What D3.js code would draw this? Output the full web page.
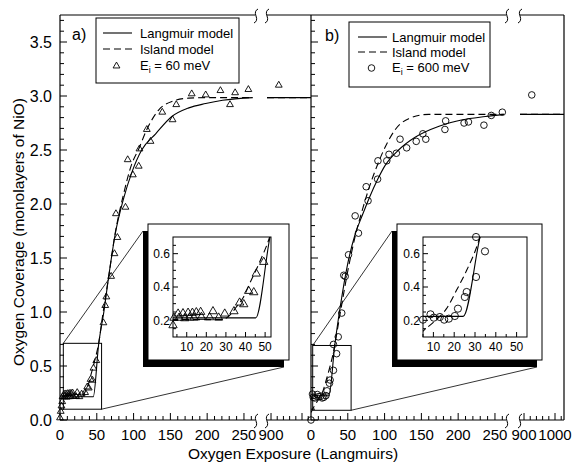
<!DOCTYPE html>
<html><head><meta charset="utf-8">
<script src="https://cdn.jsdelivr.net/npm/d3@7"></script>
<style>body{margin:0;background:#fff}svg{display:block}text{font-family:"Liberation Sans",Arial,sans-serif;fill:#000}</style>
</head><body><svg id="c" width="582" height="466"></svg>
<script>
// ---------- tick labels ----------
const yMajorTicks = [0, 0.5, 1, 1.5, 2, 2.5, 3, 3.5];
const xLabels1 = [0, 50, 100, 150, 200, 250];
const xLabels2A = [900];
const xLabels2B = [900, 1000];
const insetXLabels = [10, 20, 30, 40, 50];
const insetYLabels = [0.2, 0.4, 0.6];

// ---------- panel a (Ei = 60 meV), [exposure, coverage] ----------
const dataA = [[0,0.02],[1,0.08],[2,0.13],[3,0.17],
  [3.5,0.215],[6.1,0.215],[9,0.212],[11.5,0.216],[13.7,0.216],[17.5,0.22],[21.7,0.218],[26.3,0.216],
  [5.6,0.24],[8.1,0.242],[10.7,0.245],[12.9,0.245],[14.9,0.248],[17.1,0.25],[23.4,0.254],[29.4,0.24],
  [34.1,0.254],[37,0.306],[39.1,0.296],[41.6,0.376],[44.2,0.368],[45.5,0.48],[49.3,0.55],
  [59,0.90],[61.5,1.06],[63,1.14],[69.5,1.33],[74,1.54],[78,1.69],[76,1.91],[89,1.97],[92,2.41],
  [99,2.27],[107,2.35],[108,2.51],[118,2.69],[123,2.58],[139,2.85],[153,2.78],[158,2.92],[179,3.02],
  [198,3.01],[218,3.05],[231,2.92],[238,3.03],[256,3.06]];
const dataAFar = [[925,3.10]];
const langA = [[2,0.215],[45.2,0.215],[52.5,0.70],[60,1.02],[66,1.32],[75,1.72],[86,2.04],[98,2.30],
  [111,2.50],[130,2.65],[152,2.81],[175,2.89],[198,2.93],[221,2.96],[262,2.985]];
const islandA = [[2,0.204],[27.6,0.204],[31,0.22],[35.3,0.28],[39,0.34],[42.1,0.42],[47.2,0.55],[52.3,0.70],
  [58,0.97],[66,1.32],[75,1.73],[86,2.08],[97,2.36],[107,2.51],[118,2.69],[134,2.87],[152,2.95],
  [175,2.98],[200,2.985],[262,2.985]];
const langAFar = [[887,2.985],[1029,2.985]];
const islandAFar = [[887,2.985],[1029,2.985]];
const zoomBoxA = [4.5, 56.5, 0.1, 0.71];
const insetDomainA = [3, 53];

// ---------- panel b (Ei = 600 meV) ----------
const dataB = [[0,0.0],[2,0.24],[3,0.21],[5,0.204],[8.6,0.236],[10.2,0.216],[13.1,0.22],[15.2,0.204],
  [17.4,0.21],[20.3,0.226],[21.8,0.27],[25.1,0.34],[26,0.37],[30.5,0.46],[30.5,0.70],[34.8,0.614],
  [37,0.77],[41.8,0.99],[44.5,1.34],[46.5,1.33],[51,1.53],[60,1.89],[64.5,1.73],[75,2.16],[77.5,2.03],
  [90.5,2.23],[91,2.40],[103,2.40],[106,2.46],[116,2.47],[121,2.60],[130,2.52],[143,2.58],[152,2.65],
  [156,2.60],[182,2.69],[183,2.77],[208,2.75],[214,2.76],[235,2.73],[245,2.82],[260,2.85]];
const dataBFar = [[925,3.01]];
const langB = [[2,0.224],[24.3,0.224],[32.4,0.70],[40,1.06],[50,1.45],[60,1.72],[70,1.90],[80,2.07],
  [90,2.22],[101,2.36],[119,2.50],[142,2.62],[174,2.72],[206,2.78],[237,2.81],[262,2.83]];
const islandB = [[0,0.07],[5,0.135],[10.7,0.196],[16.3,0.27],[21.1,0.38],[26,0.50],[30.8,0.64],[32.4,0.70],
  [40,1.0],[50,1.38],[60,1.70],[70,1.95],[78,2.13],[89.6,2.35],[101,2.53],[114.6,2.69],[132.8,2.79],
  [160,2.83],[262,2.83]];
const langBFar = [[887,2.83],[1029,2.83]];
const islandBFar = [[887,2.83],[1029,2.83]];
const zoomBoxB = [2.3, 54.5, 0.09, 0.69];
const insetDomainB = [5, 55];

const svg = d3.select("#c");
const yM = d3.scaleLinear([0, 3.75], [420, 15]);
let clipId = 0;

function clipRect(x, y, w, h){
  const id = "clip" + (clipId++);
  svg.append("clipPath").attr("id", id).append("rect").attr("x", x).attr("y", y).attr("width", w).attr("height", h);
  return "url(#" + id + ")";
}
function breakMark(g, x, y){
  g.append("path").attr("d", `M${x+2},${y-7} Q${x-2},${y-5} ${x},${y} Q${x+2},${y+5} ${x-2},${y+7}`)
    .attr("fill","none").attr("stroke","#000").attr("stroke-width",1);
}
function marker(g, pts, sx, sy, kind, size){
  if (kind === "tri"){
    g.selectAll(null).data(pts).join("path")
      .attr("d", d3.symbol().type(d3.symbolTriangle).size(size))
      .attr("transform", d => `translate(${sx(d[0])},${sy(d[1])})`)
      .attr("fill","none").attr("stroke","#000").attr("stroke-width",0.9);
  } else {
    g.selectAll(null).data(pts).join("circle")
      .attr("cx", d => sx(d[0])).attr("cy", d => sy(d[1])).attr("r", size)
      .attr("fill","none").attr("stroke","#000").attr("stroke-width",0.9);
  }
}
function curve(g, pts, sx, sy, dashed, w){
  g.append("path").attr("d", d3.line().x(d=>sx(d[0])).y(d=>sy(d[1])).curve(d3.curveMonotoneX)(pts))
    .attr("fill","none").attr("stroke","#000").attr("stroke-width", w || 1.1)
    .attr("stroke-dasharray", dashed ? "7,4" : null);
}

function panel(p){
  const g = svg.append("g");
  const x1 = d3.scaleLinear([0, 265], [p.x0, p.x0 + 195]);
  const x2 = d3.scaleLinear([887, 1029], [p.x2s, p.x2s + 44]);
  // main curves
  const g1 = g.append("g").attr("clip-path", clipRect(p.x0, 15, 195, 405));
  curve(g1, p.lang, x1, yM, false);
  curve(g1, p.island, x1, yM, true);
  const g2 = g.append("g").attr("clip-path", clipRect(p.x2s, 15, 44, 405));
  curve(g2, p.langFar, x2, yM, false);
  curve(g2, p.islandFar, x2, yM, true);
  marker(g, p.data, x1, yM, p.kind, p.kind === "tri" ? 20 : 3.3);
  marker(g, p.dataFar, x2, yM, p.kind, p.kind === "tri" ? 20 : 3.3);

  // zoom box and connectors
  const zb = p.zoomBox;
  const bx0 = x1(zb[0]), bx1 = x1(zb[1]), by0 = yM(zb[3]), by1 = yM(zb[2]);
  g.append("rect").attr("x", bx0).attr("y", by0).attr("width", bx1 - bx0).attr("height", by1 - by0)
    .attr("fill","none").attr("stroke","#000").attr("stroke-width",1);
  const ins = p.inset;
  const shX = ins.ox - 5, shY = ins.oy + 7;
  g.append("line").attr("x1", bx0).attr("y1", by0).attr("x2", shX).attr("y2", shY).attr("stroke","#000").attr("stroke-width",0.8);
  g.append("line").attr("x1", bx1).attr("y1", by1).attr("x2", shX + ins.ow).attr("y2", shY + ins.oh).attr("stroke","#000").attr("stroke-width",0.8);

  // inset
  g.append("rect").attr("x", shX).attr("y", shY).attr("width", ins.ow).attr("height", ins.oh).attr("fill","#000");
  g.append("rect").attr("x", ins.ox).attr("y", ins.oy).attr("width", ins.ow).attr("height", ins.oh)
    .attr("fill","#fff").attr("stroke","#000").attr("stroke-width",1);
  const ix = d3.scaleLinear(p.insetDomain, [ins.ix0, ins.ix1]);
  const iy = d3.scaleLinear([0.1, 0.7], [ins.iy1, ins.iy0]);
  const gi = g.append("g").attr("clip-path", clipRect(ins.ix0, ins.iy0, ins.ix1 - ins.ix0, ins.iy1 - ins.iy0));
  curve(gi, p.lang, ix, iy, false);
  curve(gi, p.island, ix, iy, true);
  const inPts = p.data.filter(d => d[0] >= p.insetDomain[0] && d[0] <= p.insetDomain[1] && d[1] >= 0.1 && d[1] <= 0.72);
  marker(g, inPts, ix, iy, p.kind, p.kind === "tri" ? 30 : 3.6);
  g.append("rect").attr("x", ins.ix0).attr("y", ins.iy0).attr("width", ins.ix1 - ins.ix0).attr("height", ins.iy1 - ins.iy0)
    .attr("fill","none").attr("stroke","#000").attr("stroke-width",1);
  // inset ticks
  const ixt = d3.range(5, 55, 5).filter(v => v >= p.insetDomain[0] && v <= p.insetDomain[1]);
  g.selectAll(null).data(ixt).join("line")
    .attr("x1", d => ix(d)).attr("x2", d => ix(d)).attr("y1", ins.iy1).attr("y2", d => ins.iy1 - (d % 10 === 0 ? 5 : 3))
    .attr("stroke","#000").attr("stroke-width",1);
  g.selectAll(null).data(insetXLabels).join("text")
    .attr("x", d => ix(d)).attr("y", ins.iy1 + 14).attr("text-anchor","middle").attr("font-size",12).text(d => d);
  const iyt = d3.range(0.15, 0.7, 0.05);
  g.selectAll(null).data(iyt).join("line")
    .attr("x1", ins.ix0).attr("x2", d => ins.ix0 + (Math.abs(d*5 - Math.round(d*5)) < 0.01 ? 5 : 3))
    .attr("y1", d => iy(d)).attr("y2", d => iy(d)).attr("stroke","#000").attr("stroke-width",1);
  g.selectAll(null).data(insetYLabels).join("text")
    .attr("x", ins.ix0 - 3).attr("y", d => iy(d)).attr("dy","0.35em").attr("text-anchor","end").attr("font-size",12)
    .text(d => d.toFixed(1));

  // axes frame: left axis
  g.append("line").attr("x1", p.x0).attr("x2", p.x0).attr("y1", 15).attr("y2", 420).attr("stroke","#000").attr("stroke-width",1.2);
  const yt = d3.range(0, 3.71, 0.1);
  g.selectAll(null).data(yt).join("line")
    .attr("x1", p.x0).attr("x2", d => p.x0 + (Math.abs(d*2 - Math.round(d*2)) < 0.01 ? 7 : 4))
    .attr("y1", d => yM(d)).attr("y2", d => yM(d)).attr("stroke","#000").attr("stroke-width",1);
  if (p.yLabels){
    g.selectAll(null).data(yMajorTicks).join("text")
      .attr("x", p.x0 - 8).attr("y", d => yM(d)).attr("dy","0.35em").attr("text-anchor","end").attr("font-size",16)
      .text(d => d.toFixed(1));
  }
  // bottom & top lines with breaks
  [420, 15].forEach(yy => {
    g.append("line").attr("x1", p.x0).attr("x2", p.x0 + 195).attr("y1", yy).attr("y2", yy).attr("stroke","#000").attr("stroke-width",1.2);
    g.append("line").attr("x1", p.x2s).attr("x2", p.x2s + 44).attr("y1", yy).attr("y2", yy).attr("stroke","#000").attr("stroke-width",1.2);
    breakMark(g, p.x0 + 196, yy + 1);
    breakMark(g, p.x2s, yy + 1);
  });
  if (p.rightLine){
    g.append("line").attr("x1", p.x2s + 44).attr("x2", p.x2s + 44).attr("y1", 15).attr("y2", 420).attr("stroke","#000").attr("stroke-width",1.2);
  }
  const xt1 = d3.range(10, 261, 10);
  g.selectAll(null).data(xt1).join("line")
    .attr("x1", d => x1(d)).attr("x2", d => x1(d)).attr("y1", 420).attr("y2", d => 420 - (d % 50 === 0 ? 7 : 4))
    .attr("stroke","#000").attr("stroke-width",1);
  const xt2 = d3.range(900, 1021, 20);
  g.selectAll(null).data(xt2).join("line")
    .attr("x1", d => x2(d)).attr("x2", d => x2(d)).attr("y1", 420).attr("y2", d => 420 - (d % 100 === 0 ? 7 : 4))
    .attr("stroke","#000").attr("stroke-width",1);
  g.selectAll(null).data(xLabels1).join("text")
    .attr("x", d => x1(d)).attr("y", 440).attr("text-anchor","middle").attr("font-size",15).text(d => d);
  g.selectAll(null).data(p.xLabels2).join("text")
    .attr("x", d => x2(d)).attr("y", 440).attr("text-anchor","middle").attr("font-size",15).text(d => d);

  // panel label
  g.append("text").attr("x", p.lab[0]).attr("y", p.lab[1]).attr("font-size",16).text(p.label);

  // legend
  const L = p.legend;
  g.append("rect").attr("x", L.x).attr("y", L.y).attr("width", L.w).attr("height", L.h)
    .attr("fill","#fff").attr("stroke","#000").attr("stroke-width",1);
  const rows = L.rows;
  g.append("line").attr("x1", L.lx0).attr("x2", L.lx1).attr("y1", rows[0]).attr("y2", rows[0]).attr("stroke","#000").attr("stroke-width",1.1);
  g.append("line").attr("x1", L.lx0).attr("x2", L.lx1).attr("y1", rows[1]).attr("y2", rows[1]).attr("stroke","#000").attr("stroke-width",1.1).attr("stroke-dasharray","7,4");
  const mx = (L.lx0 + L.lx1) / 2 - 1;
  if (p.kind === "tri"){
    g.append("path").attr("d", d3.symbol().type(d3.symbolTriangle).size(20)()).attr("transform", `translate(${mx},${rows[2]+1})`)
      .attr("fill","none").attr("stroke","#000").attr("stroke-width",0.9);
  } else {
    g.append("circle").attr("cx", mx).attr("cy", rows[2]+1).attr("r", 3.3).attr("fill","none").attr("stroke","#000").attr("stroke-width",0.9);
  }
  const tx = L.tx;
  g.append("text").attr("x", tx).attr("y", rows[0]).attr("dy","0.35em").attr("font-size",13).text("Langmuir model");
  g.append("text").attr("x", tx).attr("y", rows[1]).attr("dy","0.35em").attr("font-size",13).text("Island model");
  const t3 = g.append("text").attr("x", tx).attr("y", rows[2]).attr("dy","0.35em").attr("font-size",13);
  t3.append("tspan").text("E");
  t3.append("tspan").attr("font-size",9).attr("dy","3").text("i");
  t3.append("tspan").attr("dy","-3").text(" = " + p.energy);
}

panel({x0: 60, x2s: 267, data: dataA, dataFar: dataAFar, lang: langA, island: islandA,
  langFar: langAFar, islandFar: islandAFar, kind: "tri", zoomBox: zoomBoxA, insetDomain: insetDomainA,
  inset: {ox: 148, oy: 224, ow: 141, oh: 136, ix0: 173, ix1: 271, iy0: 237, iy1: 337},
  yLabels: true, rightLine: false, xLabels2: xLabels2A, label: "a)", lab: [72, 40],
  legend: {x: 96, y: 18, w: 143, h: 65, rows: [33, 49, 65], lx0: 103, lx1: 132, tx: 140}, energy: "60 meV"});

panel({x0: 311, x2s: 520, data: dataB, dataFar: dataBFar, lang: langB, island: islandB,
  langFar: langBFar, islandFar: islandBFar, kind: "circ", zoomBox: zoomBoxB, insetDomain: insetDomainB,
  inset: {ox: 397, oy: 224, ow: 145, oh: 136, ix0: 423, ix1: 527, iy0: 237, iy1: 337},
  yLabels: false, rightLine: true, xLabels2: xLabels2B, label: "b)", lab: [325, 41],
  legend: {x: 349, y: 22, w: 141, h: 65, rows: [37, 52, 67], lx0: 358, lx1: 387, tx: 392}, energy: "600 meV"});

// axis titles
svg.append("text").attr("x", 293).attr("y", 459).attr("text-anchor","middle").attr("font-size",15.5)
  .text("Oxygen Exposure (Langmuirs)");
svg.append("text").attr("transform","translate(19,232) rotate(-90)").attr("text-anchor","middle").attr("dy","0.35em")
  .attr("font-size",15.5).text("Oxygen Coverage (monolayers of NiO)");
</script></body></html>
